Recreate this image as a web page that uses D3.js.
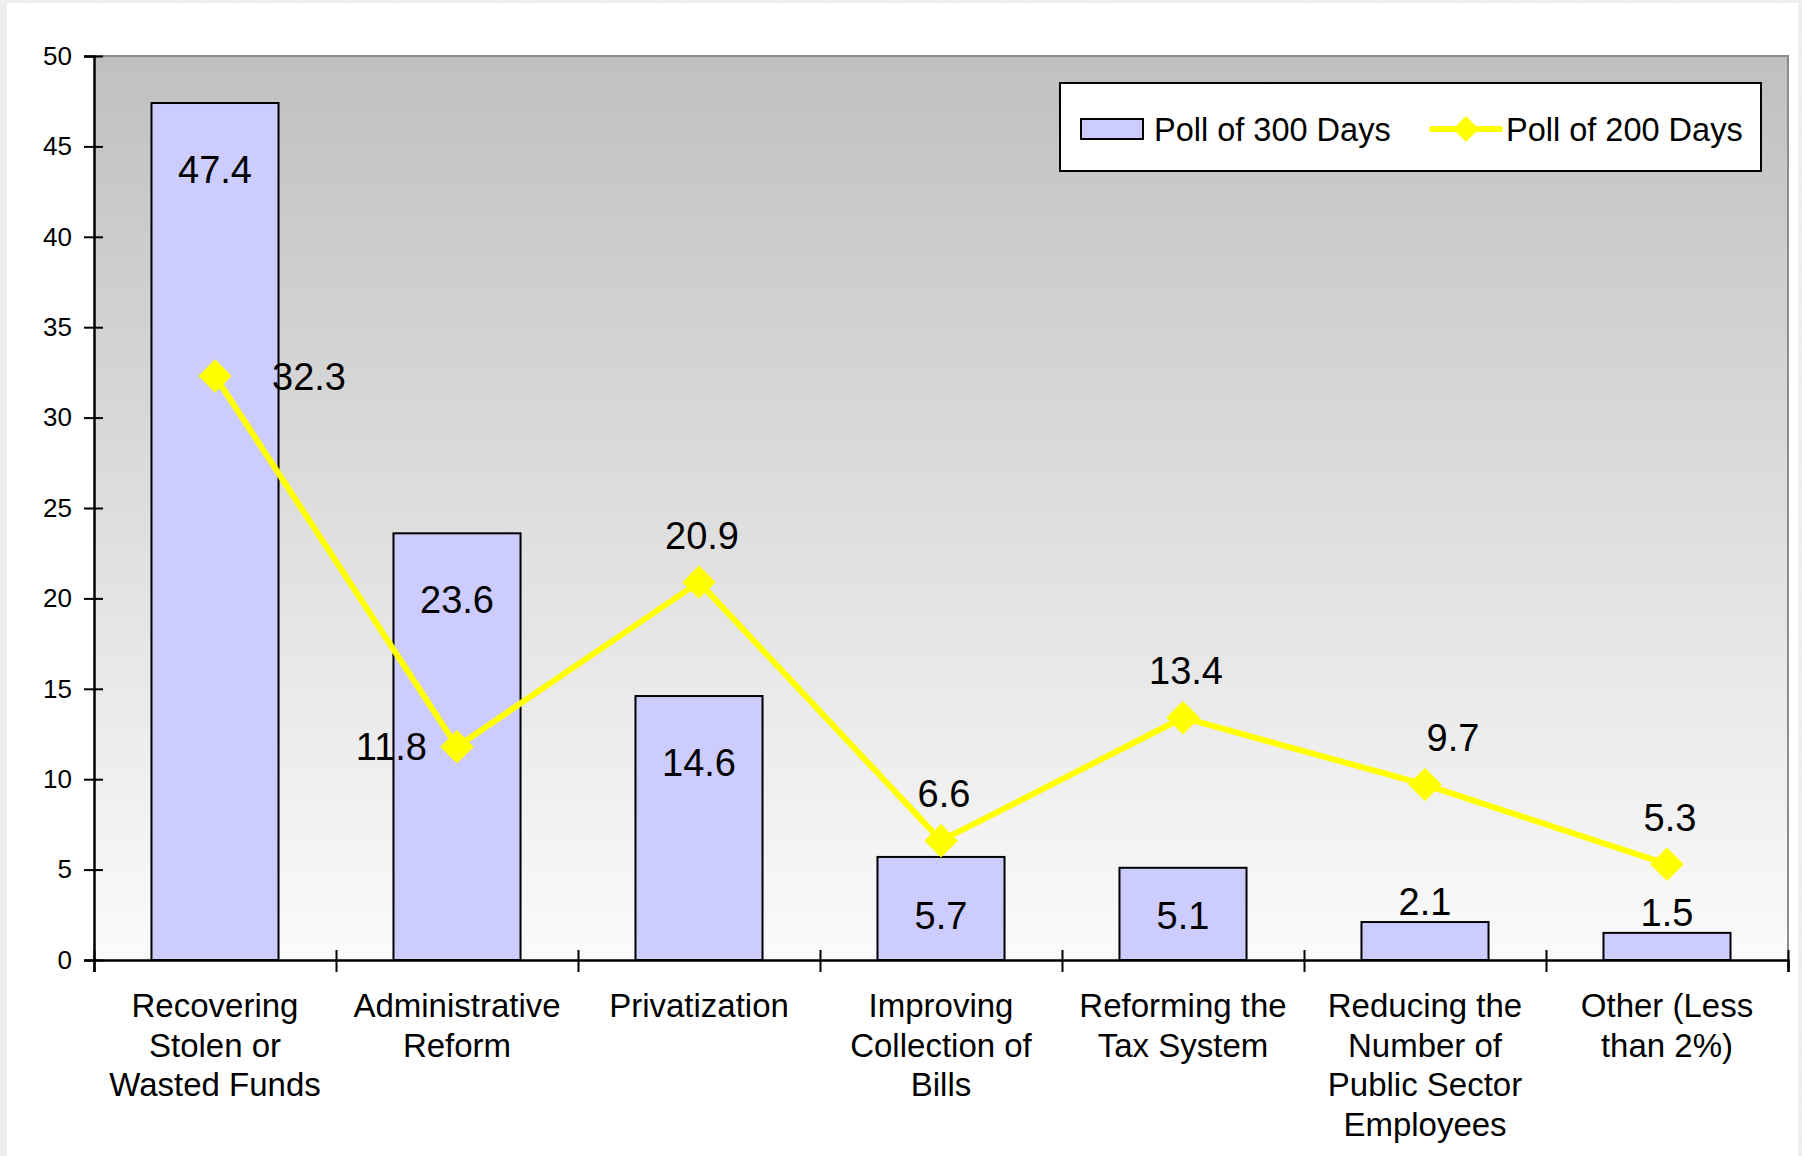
<!DOCTYPE html>
<html>
<head>
<meta charset="utf-8">
<script src="https://cdn.jsdelivr.net/npm/d3@7"></script>
<style>
  html, body { margin: 0; padding: 0; background: #e4e4e4; }
  svg { display: block; }
  text { font-family: "Liberation Sans", Arial, sans-serif; fill: #000; }
</style>
</head>
<body>
<div id="chart"></div>
<script>
// categories and values
var categories = [
  'Recovering Stolen or Wasted Funds',
  'Administrative Reform',
  'Privatization',
  'Improving Collection of Bills',
  'Reforming the Tax System',
  'Reducing the Number of Public Sector Employees',
  'Other (Less than 2%)'
];
var categoryLines = [
  ['Recovering', 'Stolen or', 'Wasted Funds'],
  ['Administrative', 'Reform'],
  ['Privatization'],
  ['Improving', 'Collection of', 'Bills'],
  ['Reforming the', 'Tax System'],
  ['Reducing the', 'Number of', 'Public Sector', 'Employees'],
  ['Other (Less', 'than 2%)']
];
var poll300 = [47.4, 23.6, 14.6, 5.7, 5.1, 2.1, 1.5];
var poll200 = [32.3, 11.8, 20.9, 6.6, 13.4, 9.7, 5.3];
var yTicks = [0, 5, 10, 15, 20, 25, 30, 35, 40, 45, 50];
var seriesNames = ['Poll of 300 Days', 'Poll of 200 Days'];
// where each line label sits relative to its point
var lineLabelSide = ['right', 'left', 'above', 'above', 'above', 'above-right', 'above'];

(function () {
  'use strict';

  var W = 1802, H = 1156;
  var left = 94, right = 1788, top = 56, bottom = 960;

  var svg = d3.select('#chart').append('svg').attr('width', W).attr('height', H);

  var defs = svg.append('defs');
  var grad = defs.append('linearGradient').attr('id', 'plotbg')
    .attr('x1', 0).attr('y1', 0).attr('x2', 0).attr('y2', 1);
  grad.append('stop').attr('offset', '0%').attr('stop-color', '#c0c0c0');
  grad.append('stop').attr('offset', '100%').attr('stop-color', '#fbfbfb');

  var noise = defs.append('filter').attr('id', 'noise');
  noise.append('feTurbulence').attr('type', 'fractalNoise').attr('baseFrequency', 0.6).attr('numOctaves', 2).attr('result', 't');
  noise.append('feColorMatrix').attr('type', 'matrix')
    .attr('values', '0 0 0 0 0.85  0 0 0 0 0.85  0 0 0 0 0.85  0 0 0 -1.2 1');

  // textured page edge + white panel
  svg.append('rect').attr('width', W).attr('height', H).attr('fill', '#efefef');
  svg.append('rect').attr('width', W).attr('height', H).attr('filter', 'url(#noise)');
  svg.append('rect').attr('x', 7).attr('y', 3).attr('width', 1791).attr('height', H - 3).attr('fill', '#fff');

  var x = d3.scaleBand().domain(categories).range([left, right]).paddingInner(0.475).paddingOuter(0.2375);
  var y = d3.scaleLinear().domain([0, 50]).range([bottom, top]);
  var xb = d3.scaleLinear().domain([0, categories.length]).range([left, right]);

  // plot area
  svg.append('rect').attr('x', left).attr('y', top).attr('width', right - left).attr('height', bottom - top)
    .attr('fill', 'url(#plotbg)');
  svg.append('path').attr('d', 'M' + left + ',' + top + 'H' + right + 'V' + bottom)
    .attr('fill', 'none').attr('stroke', '#8c8c8c').attr('stroke-width', 2);

  // bars
  svg.append('g').selectAll('rect').data(poll300).join('rect')
    .attr('x', function (d, i) { return x(categories[i]); })
    .attr('y', function (d) { return y(d); })
    .attr('width', x.bandwidth())
    .attr('height', function (d) { return bottom - y(d); })
    .attr('fill', '#ccccff').attr('stroke', '#000').attr('stroke-width', 2);

  // bar labels
  svg.append('g').attr('text-anchor', 'middle').attr('font-size', 38)
    .selectAll('text').data(poll300).join('text')
    .attr('x', function (d, i) { return x(categories[i]) + x.bandwidth() / 2; })
    .attr('y', function (d) {
      var h = bottom - y(d);
      return h < 60 ? y(d) - 21 : Math.min(y(d) + 66, bottom - 45);
    })
    .attr('dy', '0.36em')
    .text(function (d) { return d3.format('.1f')(d); });

  // y axis
  var yAxis = svg.append('g').attr('transform', 'translate(' + left + ',0)')
    .call(d3.axisLeft(y).tickValues(yTicks).tickSize(10).tickPadding(12));
  yAxis.select('.domain').attr('stroke', '#000').attr('stroke-width', 2.5);
  yAxis.selectAll('.tick line').attr('x1', 9).attr('stroke-width', 2);
  yAxis.selectAll('.tick text').attr('font-size', 26).attr('font-family', '"Liberation Sans", Arial, sans-serif');

  // x axis with ticks between categories
  var xAxis = svg.append('g').attr('transform', 'translate(0,' + bottom + ')')
    .call(d3.axisBottom(xb).tickValues(d3.range(categories.length + 1)).tickSize(12).tickFormat(''));
  xAxis.select('.domain').attr('stroke', '#000').attr('stroke-width', 2.5);
  xAxis.selectAll('.tick line').attr('y1', -10).attr('stroke-width', 2);

  // category labels
  svg.append('g').attr('text-anchor', 'middle').attr('font-size', 33)
    .selectAll('text').data(categoryLines).join('text')
    .attr('x', function (d, i) { return x(categories[i]) + x.bandwidth() / 2; })
    .attr('y', 1017)
    .selectAll('tspan').data(function (d) { return d; }).join('tspan')
    .attr('x', function () { return d3.select(this.parentNode).attr('x'); })
    .attr('dy', function (d, i) { return i === 0 ? 0 : 39.5; })
    .text(function (d) { return d; });

  // line series
  var cx = function (d, i) { return x(categories[i]) + x.bandwidth() / 2; };
  var line = d3.line().x(cx).y(function (d) { return y(d); });
  svg.append('path').datum(poll200).attr('d', line)
    .attr('fill', 'none').attr('stroke', '#ffff00').attr('stroke-width', 6).attr('stroke-linejoin', 'round');

  var diamond = d3.symbol().type(d3.symbolSquare).size(560);
  svg.append('g').selectAll('path').data(poll200).join('path')
    .attr('d', diamond)
    .attr('transform', function (d, i) { return 'translate(' + cx(d, i) + ',' + y(d) + ') rotate(45)'; })
    .attr('fill', '#ffff00');

  svg.append('g').attr('font-size', 38).selectAll('text').data(poll200).join('text')
    .attr('x', function (d, i) {
      var s = lineLabelSide[i];
      if (s === 'right') return cx(d, i) + 57;
      if (s === 'left') return cx(d, i) - 30;
      if (s === 'above-right') return cx(d, i) + 28;
      return cx(d, i) + 3;
    })
    .attr('y', function (d, i) { return lineLabelSide[i] === 'right' || lineLabelSide[i] === 'left' ? y(d) : y(d) - 47; })
    .attr('dy', '0.36em')
    .attr('text-anchor', function (d, i) {
      var s = lineLabelSide[i];
      return s === 'right' ? 'start' : s === 'left' ? 'end' : 'middle';
    })
    .text(function (d) { return d3.format('.1f')(d); });

  // legend
  var lg = svg.append('g').attr('transform', 'translate(1060,83)');
  lg.append('rect').attr('width', 701).attr('height', 88).attr('fill', '#fff').attr('stroke', '#000').attr('stroke-width', 2);
  lg.append('rect').attr('x', 21).attr('y', 36).attr('width', 62).attr('height', 20)
    .attr('fill', '#ccccff').attr('stroke', '#000').attr('stroke-width', 2);
  lg.append('text').attr('x', 94).attr('y', 46).attr('dy', '0.36em').attr('font-size', 32.5).text(seriesNames[0]);
  lg.append('line').attr('x1', 372).attr('x2', 440).attr('y1', 46).attr('y2', 46)
    .attr('stroke', '#ffff00').attr('stroke-width', 6).attr('stroke-linecap', 'round');
  lg.append('path').attr('d', d3.symbol().type(d3.symbolSquare).size(340))
    .attr('transform', 'translate(406,46) rotate(45)').attr('fill', '#ffff00');
  lg.append('text').attr('x', 446).attr('y', 46).attr('dy', '0.36em').attr('font-size', 32.5).text(seriesNames[1]);
})();
</script>
</body>
</html>
